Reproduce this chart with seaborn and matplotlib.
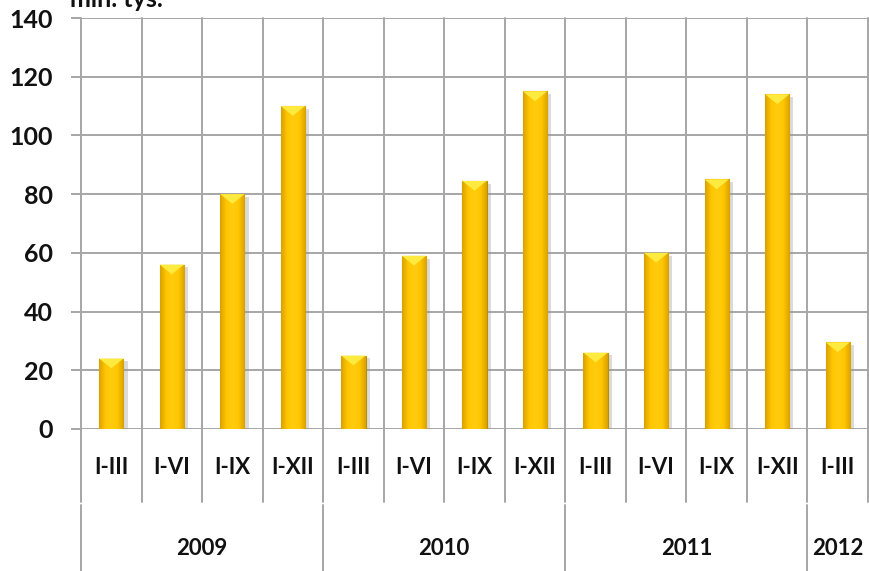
import numpy as np
import pandas as pd
import matplotlib
matplotlib.use('Agg')
import matplotlib.pyplot as plt
import matplotlib.transforms as mtransforms
import matplotlib.patheffects as pe
from matplotlib.colors import LinearSegmentedColormap
import seaborn as sns

# ==================== Data ====================
years = ['2009', '2010', '2011', '2012']
periods = ['I-III', 'I-VI', 'I-IX', 'I-XII',
           'I-III', 'I-VI', 'I-IX', 'I-XII',
           'I-III', 'I-VI', 'I-IX', 'I-XII',
           'I-III']
period_year = ['2009'] * 4 + ['2010'] * 4 + ['2011'] * 4 + ['2012']
values = [24, 56, 80, 110,
          25, 59, 84.5, 115,
          26, 60, 85, 114,
          29.5]
y_ticks = [0, 20, 40, 60, 80, 100, 120, 140]

df = pd.DataFrame({'key': [f'{y} {p}' for y, p in zip(period_year, periods)],
                   'period': periods, 'year': period_year, 'value': values})

# ==================== Style ====================
sns.set_style('white')
plt.rcParams['font.family'] = ['Lato', 'DejaVu Sans']
grid_col = '#A6A6A6'
text_col = '#111111'

fig = plt.figure(figsize=(8.69, 5.71), dpi=100)
W, H = 869, 571
ax = fig.add_axes([81 / W, 1 - 429 / H, (868 - 81) / W, (429 - 18) / H])

sns.barplot(data=df, x='key', y='value', color='#FFC600', width=0.40,
            edgecolor='#B88F00', linewidth=0.8, ax=ax, zorder=3)

# bevel-like shading on each bar (gradient clipped to the bar patch)
cmap = LinearSegmentedColormap.from_list('gold', ['#D9A200', '#FFC600', '#FFCC10', '#FFC600', '#D9A200'])
grad = np.linspace(0, 1, 64).reshape(1, -1)
for p in ax.patches:
    p.set_path_effects([pe.SimplePatchShadow(offset=(3, -2), shadow_rgbFace='#999999', alpha=0.35),
                        pe.Normal()])
    x0, y0 = p.get_x(), p.get_y()
    w, h = p.get_width(), p.get_height()
    im = ax.imshow(grad, cmap=cmap, aspect='auto', extent=(x0, x0 + w, y0, y0 + h), zorder=3.5)
    im.set_clip_path(p)
    # light top facet
    ax.fill([x0, x0 + w, x0 + w / 2], [y0 + h, y0 + h, y0 + h - 3.3],
            color='#FFEA40', zorder=4, lw=0)

n = len(values)
ax.set_xlim(-0.5, n - 0.5)
ax.set_ylim(0, 140)
ax.set_yticks(y_ticks)
ax.set_yticklabels([str(v) for v in y_ticks], fontsize=18, fontweight='bold', color=text_col)
ax.tick_params(axis='y', length=7, width=1.4, color=grid_col, pad=13, left=True)
ax.set_xticks([])
ax.set_xlabel('')
ax.set_ylabel('')
for s in ax.spines.values():
    s.set_visible(False)

# horizontal gridlines
for v in y_ticks:
    ax.axhline(v, color=grid_col, lw=1.4, zorder=1)

# vertical gridlines, reaching down through the period label row
trans = mtransforms.blended_transform_factory(ax.transData, ax.transAxes)
for i in range(n + 1):
    ax.plot([i - 0.5, i - 0.5], [1, -0.178], transform=trans, color=grid_col,
            lw=1.4, clip_on=False, zorder=1)

# period labels
for i, p in enumerate(periods):
    ax.text(i, -0.0925, p, transform=trans, ha='center', va='center',
            fontsize=16, fontweight='bold', color=text_col, clip_on=False)

# year row
bounds = [-0.5, 3.5, 7.5, 11.5]
for b in bounds:
    ax.plot([b, b], [-0.185, -0.36], transform=trans, color=grid_col,
            lw=1.4, clip_on=False, zorder=1)
for y in years:
    idx = [i for i, py in enumerate(period_year) if py == y]
    ax.text(np.mean(idx), -0.29, y, transform=trans, ha='center', va='center',
            fontsize=16, fontweight='bold', color=text_col, clip_on=False)

# unit label, cut off at the top edge as in the source
fig.text(163 / W, 1 - 7 / H, 'mln. tys.', ha='right', va='baseline',
         fontsize=18, fontweight='bold', color=text_col)

fig.savefig('out.png', dpi=100)
